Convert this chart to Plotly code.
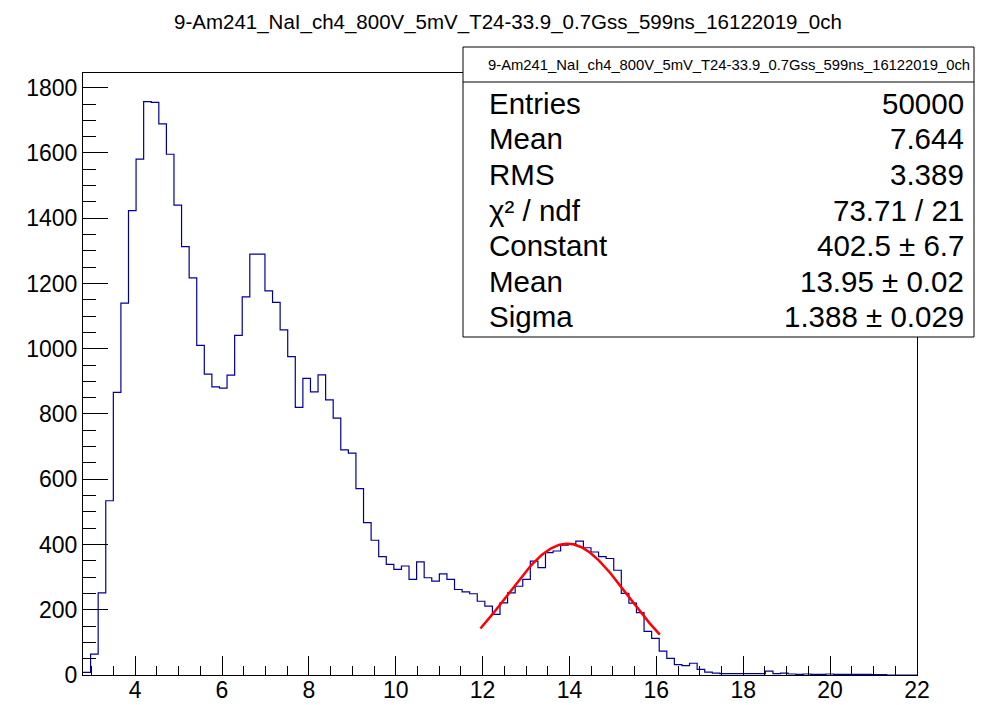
import numpy as np
import plotly.graph_objects as go

# Canvas and frame geometry (pixels)
W, H = 1007, 705
L, R, T, B = 83, 90, 73, 30

# Histogram definition
x_min, x_max = 2.8, 22.0
n_bins = 110
counts = [
    8, 64, 252, 534, 866, 1140, 1423, 1581, 1757, 1755,
    1689, 1596, 1440, 1313, 1217, 1010, 922, 883, 879, 919,
    1041, 1159, 1290, 1290, 1177, 1142, 1058, 976, 820, 909,
    868, 920, 843, 787, 690, 680, 571, 467, 413, 363,
    339, 324, 334, 293, 347, 298, 288, 310, 293, 262,
    255, 249, 226, 211, 186, 221, 252, 272, 293, 349,
    329, 375, 380, 398, 402, 410, 390, 377, 363, 357,
    321, 250, 220, 191, 134, 112, 73, 51, 32, 29,
    36, 17, 9, 6, 4, 4, 4, 4, 4, 4,
    12, 4, 6, 3, 2, 3, 2, 2, 3, 2,
    2, 2, 2, 2, 1, 1, 0, 0, 0, 0,
]

# Gaussian fit result
fit_constant, fit_constant_err = 402.5, 6.7
fit_mean, fit_mean_err = 13.95, 0.02
fit_sigma, fit_sigma_err = 1.388, 0.029
fit_lo, fit_hi = 11.95, 16.08
chi2, ndf = 73.71, 21

# Statistics
entries = 50000
hist_mean = 7.644
hist_rms = 3.389

hist_name = "9-Am241_NaI_ch4_800V_5mV_T24-33.9_0.7Gss_599ns_16122019_0ch"

y_max = 1845
x_ticks = [4, 6, 8, 10, 12, 14, 16, 18, 20, 22]
y_ticks = [0, 200, 400, 600, 800, 1000, 1200, 1400, 1600, 1800]

FONT = "Liberation Sans, Arial, Helvetica, sans-serif"
HIST_COLOR = "#000099"

edges = np.linspace(x_min, x_max, n_bins + 1)
step_y = list(counts) + [counts[-1]]

fx = np.linspace(fit_lo, fit_hi, 200)
fy = fit_constant * np.exp(-0.5 * ((fx - fit_mean) / fit_sigma) ** 2)

fig = go.Figure()
fig.add_trace(go.Scatter(
    x=edges, y=step_y, mode="lines", line_shape="hv",
    line=dict(color=HIST_COLOR, width=1.2), hoverinfo="skip", showlegend=False,
))
fig.add_trace(go.Scatter(
    x=fx, y=fy, mode="lines",
    line=dict(color="#ff0000", width=2.5), hoverinfo="skip", showlegend=False,
))

pw, ph = W - L - R, H - T - B


def px_x(px):
    return (px - L) / pw


def px_y(py):
    return (H - B - py) / ph


shapes = []
annotations = []

# Stats box
bx0, by0, bx1, by1 = 463, 47, 974, 337
sep_y = 82
shapes.append(dict(type="rect", xref="paper", yref="paper",
                   x0=px_x(bx0), x1=px_x(bx1), y0=px_y(by1), y1=px_y(by0),
                   line=dict(color="black", width=1), fillcolor="white", layer="above"))
shapes.append(dict(type="line", xref="paper", yref="paper",
                   x0=px_x(bx0), x1=px_x(bx1), y0=px_y(sep_y), y1=px_y(sep_y),
                   line=dict(color="black", width=1), layer="above"))

annotations.append(dict(text=hist_name, xref="paper", yref="paper",
                        x=px_x(729), y=px_y(64.5), xanchor="center", yanchor="middle",
                        showarrow=False, font=dict(family=FONT, size=14.8, color="black")))

stat_labels = ["Entries", "Mean", "RMS", "χ² / ndf", "Constant", "Mean", "Sigma"]
stat_values = [
    f"{entries}",
    f"{hist_mean:.3f}",
    f"{hist_rms:.3f}",
    f"{chi2:.2f} / {ndf}",
    f"{fit_constant:.1f} ± {fit_constant_err:.1f}",
    f"{fit_mean:.2f} ± {fit_mean_err:.2f}",
    f"{fit_sigma:.3f} ± {fit_sigma_err:.3f}",
]
row_y0, row_dy = 103.3, 35.57
for i, (lab, val) in enumerate(zip(stat_labels, stat_values)):
    yy = px_y(row_y0 + i * row_dy)
    annotations.append(dict(text=lab, xref="paper", yref="paper", x=px_x(487), y=yy,
                            xanchor="left", yanchor="middle", showarrow=False,
                            font=dict(family=FONT, size=29.5, color="black")))
    annotations.append(dict(text=val, xref="paper", yref="paper", x=px_x(966), y=yy,
                            xanchor="right", yanchor="middle", showarrow=False,
                            font=dict(family=FONT, size=29.5, color="black")))

# Title
annotations.append(dict(text=hist_name, xref="paper", yref="paper",
                        x=px_x(508), y=px_y(22), xanchor="center", yanchor="middle",
                        showarrow=False, font=dict(family=FONT, size=20.5, color="black")))

fig.update_layout(
    width=W, height=H,
    margin=dict(l=L, r=R, t=T, b=B, pad=0, autoexpand=False),
    paper_bgcolor="white", plot_bgcolor="white",
    showlegend=False,
    shapes=shapes, annotations=annotations,
    font=dict(family=FONT, color="black"),
)
fig.update_xaxes(
    range=[x_min, x_max], tickvals=x_ticks, ticktext=[str(v) for v in x_ticks],
    ticks="inside", ticklen=19, tickwidth=1, tickcolor="black",
    minor=dict(ticks="inside", ticklen=9, dtick=0.5, tick0=0, tickcolor="black", tickwidth=1),
    showline=True, linecolor="black", linewidth=1, mirror=True,
    showgrid=False, zeroline=False, automargin=False,
    tickfont=dict(family=FONT, size=23, color="black"),
    ticklabelstandoff=-6,
)
fig.update_yaxes(
    range=[0, y_max], tickvals=y_ticks, ticktext=[str(v) for v in y_ticks],
    ticks="inside", ticklen=25, tickwidth=1, tickcolor="black",
    minor=dict(ticks="inside", ticklen=13, dtick=50, tick0=0, tickcolor="black", tickwidth=1),
    showline=True, linecolor="black", linewidth=1, mirror=True,
    showgrid=False, zeroline=False, automargin=False,
    tickfont=dict(family=FONT, size=23, color="black"),
    ticklabelstandoff=0,
)

fig.write_html("out.html")
